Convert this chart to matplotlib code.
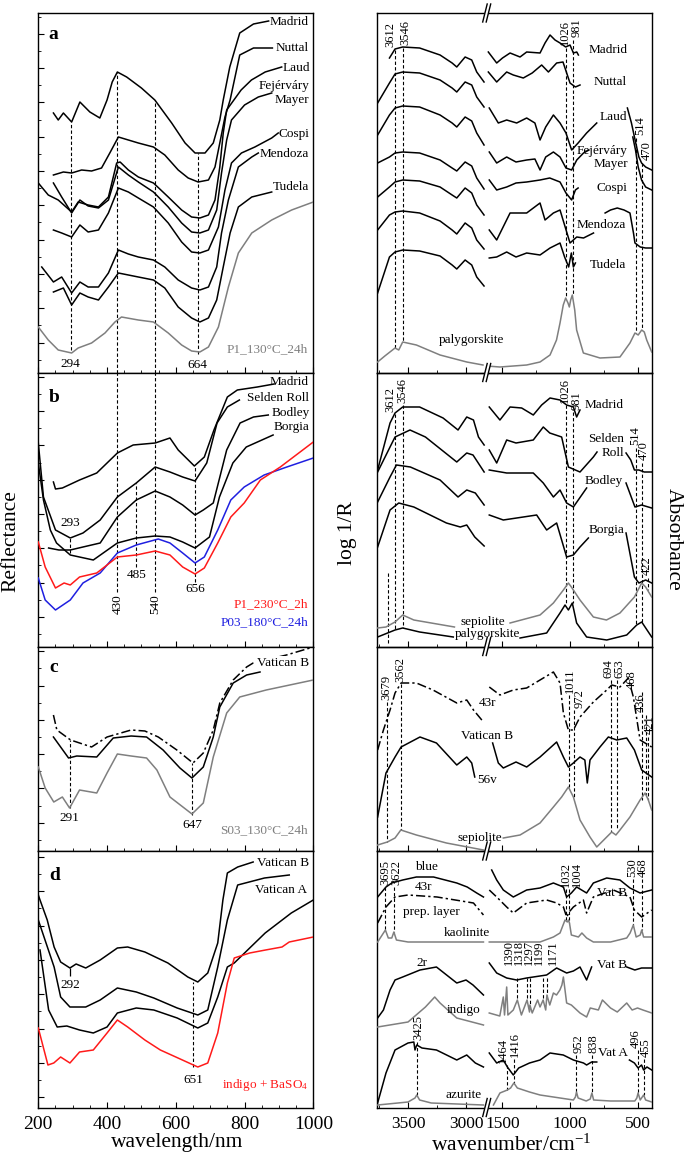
import numpy as np
import matplotlib
matplotlib.use("Agg")
import matplotlib.pyplot as plt
from matplotlib.ticker import MultipleLocator
from matplotlib.lines import Line2D
from matplotlib.patches import Polygon

plt.rcParams['font.family'] = ['Liberation Serif', 'DejaVu Serif']
plt.rcParams['mathtext.fontset'] = 'custom'
plt.rcParams['mathtext.rm'] = 'Liberation Serif'
plt.rcParams['mathtext.it'] = 'Liberation Serif:italic'
plt.rcParams['axes.linewidth'] = 1.0

# ---------------- LEFT a (wavelength nm, arbitrary reflectance units) ----------------
la_madrid_w = [244,258,273,297,321,350,379,400,415,430,457,500,539,588,627,656,685,709,728,738,757,786,826,870]
la_madrid_r = [1087,1080,1087,1078,1098,1088,1082,1100,1118,1128,1123,1112,1100,1077,1057,1047,1047,1057,1080,1100,1133,1167,1176,1179]
la_nuttal_w = [244,273,297,326,355,384,408,433,462,491,535,568,607,636,665,695,714,728,743,758,786,826,881]
la_nuttal_r = [1025,1028,1027,1030,1029,1032,1047,1063,1060,1057,1053,1045,1030,1022,1018,1020,1033,1057,1083,1100,1145,1152,1152]
la_laud_w = [200,229,258,297,316,345,375,404,428,438,462,491,535,578,617,646,670,695,714,728,738,748,790,820,860,908]
la_laud_r = [1017,1005,1000,988,998,995,993,1003,1037,1038,1030,1023,1017,1003,990,983,982,985,1000,1033,1067,1090,1110,1120,1128,1133]
la_fejer_w = [244,268,297,321,345,375,404,433,462,491,535,578,617,646,670,695,719,733,748,762,800,840,879]
la_fejer_r = [1017,1003,987,1000,994,992,1000,1033,1025,1018,1008,993,977,968,967,970,990,1027,1060,1080,1095,1103,1107]
la_cospi_w = [244,268,297,321,345,375,404,433,462,491,535,578,617,646,670,695,724,743,762,791,830,879,898]
la_cospi_r = [970,967,963,975,968,970,987,1012,1008,1002,993,977,958,948,947,950,973,1010,1037,1047,1053,1062,1067]
la_mendoza_w = [210,244,268,297,321,345,375,404,433,462,491,535,568,607,646,670,695,719,733,753,782,821,840]
la_mendoza_r = [933,918,923,907,918,913,913,927,950,946,943,940,933,920,912,910,913,933,967,1000,1033,1043,1047]
la_tudela_w = [244,273,297,321,345,375,404,433,462,491,535,568,607,646,670,695,719,738,758,782,821,879]
la_tudela_r = [908,912,895,907,903,900,913,927,925,923,920,912,893,882,878,882,900,933,967,993,1003,1008]
la_p1_w = [200,229,258,297,316,355,394,423,442,491,535,578,617,646,670,695,724,753,782,821,879,937,1000]
la_p1_r = [873,860,850,847,852,857,867,878,883,880,878,867,855,849,848,853,873,913,947,967,980,990,998]
la_peak_w = [294,430,540,664]
la_peak_top = [1078,1128,1100,1047]
la_peak_bot = [850,827,827,846]

# ---------------- LEFT b ----------------
lb_madrid_w = [244,250,270,320,370,430,476,540,583,607,654,683,711,750,779,837,886]
lb_madrid_r = [718,711,712,720,727,747,755,757,762,750,734,743,770,803,810,813,816]
lb_selden_w = [200,215,250,293,330,380,430,485,540,583,620,656,690,720,750,785]
lb_selden_r = [757,703,670,662,667,680,703,717,733,728,723,719,737,777,793,800]
lb_bodley_w = [230,260,293,330,380,430,485,540,583,620,656,680,709,748,787,826,869]
lb_bodley_r = [652,650,650,653,657,683,700,709,703,695,685,690,697,750,777,783,785]
lb_borgia_w = [200,215,235,253,293,360,430,485,540,583,620,656,698,727,766,805,883]
lb_borgia_r = [737,700,670,657,645,640,657,662,664,663,658,652,663,703,737,753,765]
lb_p1_w = [200,220,250,275,293,320,370,430,485,540,583,620,656,683,722,760,799,846,904,1000]
lb_p1_r = [658,633,612,617,615,623,627,643,645,649,645,633,626,632,657,683,697,720,733,758]
lb_p03_w = [200,220,250,293,330,380,430,485,549,583,620,656,683,722,760,799,857,923,1000]
lb_p03_r = [622,600,590,600,617,627,647,655,661,657,647,637,643,670,700,713,725,733,742]
lb_peak_w = [293,430,485,540,656]
lb_peak_top = [663,827,717,827,734]
lb_peak_bot = [647,608,633,608,618]

# ---------------- LEFT c ----------------
lc_vatb43_w = [244,254,294,355,400,470,510,549,603,650,680,709,728,767,806,825,922,1000]
lc_vatb43_r = [485,470,460,453,463,470,469,463,450,437,447,470,497,520,533,537,545,553]
lc_vatb_w = [244,288,312,370,418,470,515,563,612,647,680,709,728,767,806,845]
lc_vatb_r = [463,442,444,443,462,464,463,450,432,422,433,463,493,517,525,528]
lc_s03_w = [200,220,245,270,291,320,370,400,430,470,515,545,583,647,680,709,748,786,863,1000]
lc_s03_r = [433,412,398,403,392,410,407,427,446,444,442,430,403,386,397,443,487,503,510,520]
lc_peak_w = [291,647]
lc_peak_top = [460,437]
lc_peak_bot = [392,385]

# ---------------- LEFT d ----------------
ld_vatb_w = [200,205,226,246,265,292,310,338,380,430,460,510,577,635,664,693,722,737,750,780,825]
ld_vatb_r = [305,300,280,253,238,232,236,232,240,252,253,248,237,223,218,227,257,300,327,333,338]
ld_vata_w = [200,246,265,292,338,380,430,485,536,604,664,693,722,750,780,858,930]
ld_vata_r = [280,233,203,193,193,200,212,208,202,192,185,190,233,280,315,322,325]
ld_third_w = [205,230,255,283,320,360,400,430,485,536,604,664,693,722,750,770,860,936,1000]
ld_third_r = [250,190,173,174,170,167,173,187,192,190,182,172,177,203,233,237,267,287,300]
ld_indigo_w = [200,228,245,265,292,320,360,400,430,460,510,555,600,664,693,722,750,770,815,861,909,930,1000]
ld_indigo_r = [172,135,137,143,137,148,150,167,180,173,160,150,143,133,137,167,217,242,247,250,253,258,263]
ld_peak_w = [651]
ld_peak_top = [218]
ld_peak_bot = [133]

# ---------------- RIGHT a (wavenumber cm-1, log 1/R arbitrary units) ----------------
ra_lw = [3762,3660,3612,3546,3400,3224,3120,3080,3008,2951,2908,2845]
ra_madrid_lw = [3660,3612,3546,3400,3224,3120,3080,3008,2951,2908,2845]
ra_madrid_l = [1142,1151,1153,1152,1145,1137,1133,1143,1140,1128,1118]
ra_nuttal_l = [1097,1117,1126,1128,1127,1120,1112,1108,1118,1115,1103,1093]
ra_laud_l = [1065,1085,1092,1094,1093,1085,1077,1073,1083,1079,1067,1055]
ra_fejer_l = [1037,1043,1047,1048,1047,1040,1032,1029,1038,1034,1022,1011]
ra_cospi_l = [1003,1013,1018,1020,1019,1013,1005,1002,1012,1007,995,985]
ra_mendoza_l = [970,985,988,989,987,979,970,966,977,972,960,951]
ra_tudela_l = [907,943,948,950,949,944,935,931,940,935,923,914]
ra_madrid_rw = [1605,1543,1500,1444,1370,1321,1222,1185,1148,1111,1074,1032,1000,975,950,938]
ra_madrid_r = [1148,1137,1142,1147,1143,1148,1147,1157,1165,1160,1157,1153,1155,1147,1148,1145]
ra_nuttal_rw = [1605,1543,1469,1420,1346,1280,1210,1160,1099,1052,1000,960,926]
ra_nuttal_r = [1128,1118,1128,1125,1122,1127,1135,1128,1137,1138,1117,1113,1115]
ra_laud_rw = [1598,1531,1469,1395,1321,1260,1222,1180,1123,1074,1030,988,940,877,802]
ra_laud_r = [1092,1077,1080,1077,1082,1077,1060,1073,1085,1077,1067,1050,1057,1067,1077]
ra_laud_tw = [575,545,518,490,470,440,395]
ra_laud_t = [1092,1077,1060,1043,1037,1033,1030]
ra_fejer_rw = [1598,1543,1469,1400,1321,1260,1222,1180,1123,1074,1030,988,950,900,860]
ra_fejer_r = [1048,1037,1043,1038,1040,1041,1030,1043,1048,1043,1032,1030,1040,1047,1050]
ra_fejer_tw = [535,515,495,470,440,395]
ra_fejer_t = [1063,1050,1033,1020,1013,1010]
ra_cospi_rw = [1598,1543,1469,1400,1321,1222,1150,1074,1030,988,960,940]
ra_cospi_r = [1020,1010,1013,1017,1018,1020,1022,1018,1007,1000,1010,1012]
ra_mendoza_rw = [1598,1543,1444,1321,1222,1185,1123,1074,1000,950,900,826]
ra_mendoza_r = [970,960,987,987,997,980,987,990,957,963,962,967]
ra_mendoza_tw = [740,700,650,600,556,530,519,480,440,395]
ra_mendoza_t = [987,990,992,990,987,967,957,953,952,952]
ra_tudela_rw = [1598,1543,1469,1400,1321,1222,1148,1074,1040,1010,990,975,960]
ra_tudela_r = [942,943,948,943,947,945,952,957,943,933,947,933,937]
ra_paly_lw = [3762,3700,3612,3580,3546,3428,3224,2994,2854]
ra_paly_l = [838,844,852,850,858,855,845,838,835]
ra_paly_rw = [1617,1519,1321,1222,1148,1100,1074,1050,1032,1015,1005,995,983,965,951,901,778,630,556,519,495,469,450,432,395]
ra_paly_r = [834,833,835,838,845,860,877,895,902,897,893,900,905,890,870,847,842,843,857,867,865,870,868,860,848]

# ---------------- RIGHT b ----------------
rb_madrid_lw = [3762,3655,3612,3546,3400,3198,3069,2994,2936,2893,2844]
rb_madrid_l = [730,777,787,793,793,782,770,783,780,763,755]
rb_madrid_rw = [1598,1519,1444,1358,1272,1210,1148,1074,1025,975,951,926]
rb_madrid_r = [793,780,793,792,785,795,802,800,795,793,783,790]
rb_selden_lw = [3762,3655,3612,3483,3350,3080,2994,2940,2844]
rb_selden_l = [728,753,763,770,763,738,747,745,728]
rb_selden_rw = [1598,1543,1469,1400,1272,1198,1150,1062,1012,926,827,800]
rb_selden_r = [750,737,760,757,760,773,767,763,733,728,743,748]
rb_selden_tw = [585,550,523,490,450,395]
rb_selden_t = [747,740,730,730,728,728]
rb_bodley_lw = [3762,3655,3600,3480,3224,3069,2994,2920,2844]
rb_bodley_l = [698,723,735,733,720,703,710,707,695]
rb_bodley_rw = [1598,1469,1272,1198,1123,1074,1025,975,877]
rb_bodley_r = [730,727,727,717,703,710,697,693,712]
rb_bodley_tw = [585,519,470,395]
rb_bodley_t = [717,693,695,692]
rb_borgia_lw = [3762,3655,3580,3450,3169,3050,2994,2925,2844]
rb_borgia_l = [653,690,697,693,677,673,675,663,654]
rb_borgia_rw = [1598,1494,1247,1173,1099,1025,975,926,864]
rb_borgia_r = [685,680,685,670,677,643,645,653,662]
rb_borgia_tw = [585,523,490,440,395]
rb_borgia_t = [667,623,617,620,617]
rb_sep_lw = [3762,3690,3612,3546,3450,3250,3100]
rb_sep_l = [572,573,578,585,580,576,573]
rb_sep_rw = [1444,1222,1123,1049,1012,990,926,827,730,630,523,469,440,395]
rb_sep_r = [577,585,597,610,617,613,600,583,580,587,603,617,613,603]
rb_paly_lw = [3762,3612,3546,3400,3110]
rb_paly_l = [563,570,572,568,563]
rb_paly_rw = [1370,1173,1074,1037,1012,983,951,877,728,580,506,469,395]
rb_paly_r = [562,567,587,595,590,597,577,563,560,565,575,578,563]

# ---------------- RIGHT c ----------------
rc_43r_lw = [3762,3712,3655,3612,3560,3428,3285,3080,2994,2936,2850]
rc_43r_l = [450,470,490,507,517,517,510,497,500,490,478]
rc_43r_rw = [1598,1519,1420,1321,1222,1123,1074,1049,1012,975,926,827,728,691,630,568,531,481,395]
rc_43r_r = [513,505,510,512,520,528,517,487,470,470,483,498,510,515,513,522,503,460,453]
rc_vatb_lw = [3762,3690,3612,3560,3397,3255,3080,2994,2951,2925]
rc_vatb_l = [383,427,443,453,463,457,435,443,437,423]
rc_vatb_rw = [1573,1531,1494,1400,1321,1222,1099,1049,1012,975,926,890,872,852,778,716,654,580,523,469,395]
rc_vatb_r = [457,437,432,438,433,443,458,443,433,437,443,440,417,440,453,463,460,462,450,430,423]
rc_sep_lw = [3762,3678,3612,3562,3428,3169,2850]
rc_sep_l = [355,358,362,370,365,357,350]
rc_sep_rw = [1494,1370,1222,1123,1062,1012,975,926,852,802,728,691,660,630,556,481,444,420,395]
rc_sep_r = [362,365,377,393,403,413,403,380,363,353,363,368,365,370,383,400,407,400,390]

# ---------------- RIGHT d ----------------
rd_blue_lw = [3762,3690,3640,3546,3428,3280,3080,2990,2908,2850]
rd_blue_l = [303,313,317,320,323,323,317,313,307,303]
rd_blue_rw = [1580,1543,1494,1420,1321,1222,1123,1049,1025,990,951,877,827,728,630,556,481,395]
rd_blue_r = [330,320,310,303,310,312,317,313,303,307,313,307,317,322,320,312,307,310]
rd_43r_lw = [3762,3690,3612,3500,3250,2936,2850]
rd_43r_l = [277,293,303,305,303,297,285]
rd_43r_rw = [1598,1543,1469,1420,1321,1173,1099,1049,1025,1000,975,901,877,827,679,556,523,469,395]
rd_43r_r = [310,303,293,287,297,300,297,293,283,289,293,300,287,303,310,303,290,283,290]
rd_kao_lw = [3762,3695,3670,3640,3622,3600,3500,2850]
rd_kao_l = [258,270,262,262,268,260,258,258]
rd_kao_rw = [1598,1222,1123,1074,1037,1020,1012,1004,990,938,912,877,827,700,580,555,531,510,480,469,455,395]
rd_kao_r = [258,258,263,267,280,278,280,277,265,263,267,262,258,258,262,267,275,263,265,270,263,263]
rd_2r_lw = [3762,3712,3655,3612,3546,3397,3255,3080,3000,2940,2850]
rd_2r_l = [182,190,210,220,223,230,233,217,220,215,205]
rd_2r_rw = [1598,1543,1469,1395,1321,1173,1099,1025,975,926,877,840]
rd_2r_r = [237,227,222,220,222,225,232,227,229,233,220,233]
rd_2r_tw = [580,520,470,395]
rd_2r_t = [233,230,232,232]
rd_ind_lw = [3762,3500,3350,3270,3224,3080,2850]
rd_ind_l = [173,178,193,203,197,182,175]
rd_ind_rw = [1598,1520,1494,1485,1469,1460,1420,1390,1360,1318,1300,1297,1280,1240,1222,1199,1180,1171,1150,1123,1100,1075,1060,1049,1025,990,926,877,850,790,760,700,650,580,540,500,460,395]
rd_ind_r = [187,184,203,185,213,185,190,200,185,200,188,195,187,200,193,200,190,205,195,207,205,210,215,223,197,195,187,183,192,190,200,192,188,197,190,192,190,187]
rd_vata_lw = [3762,3690,3612,3500,3450,3440,3425,3380,3255,3080,2994,2920,2850]
rd_vata_l = [97,127,150,157,158,150,155,152,150,140,145,137,133]
rd_vata_rw = [1598,1543,1494,1464,1420,1380,1300,1222,1148,1050,975,900,877,840,802]
rd_vata_r = [147,137,140,133,125,132,137,140,147,145,140,137,135,138,138]
rd_vata_tw = [560,523,496,470,455,430,395]
rd_vata_t = [140,137,132,135,130,133,130]
rd_azu_lw = [3762,3500,3440,3425,3400,3300,2850]
rd_azu_l = [95,98,102,105,100,97,95]
rd_azu_rw = [1567,1519,1464,1440,1416,1390,1300,1222,975,960,952,940,880,850,838,825,700,520,505,496,480,455,440,395]
rd_azu_r = [95,107,110,112,117,112,108,105,100,103,108,102,99,101,107,100,99,99,102,107,100,105,100,98]

# ---------------- styling / layout ----------------
BLACK = 'k'; GREY = '#7f7f7f'; RED = '#ff1a1a'; BLUE = '#1f1fe0'
DASHDOT = (0, (6, 2, 1.5, 2))
DASH = (0, (3, 2))
LW = 1.1
LFS = 9.5   # curve labels
NFS = 9     # peak numbers

W, H = 685, 1159
fig = plt.figure(figsize=(W / 100, H / 100), dpi=100)

def rect(x0, x1, y0, y1):
    return [x0 / W, 1 - y1 / H, (x1 - x0) / W, (y1 - y0) / H]

def fp(x, y):
    return (x / W, 1 - y / H)

BND = [13, 372.5, 646.5, 851, 1107.5]
BASE = 1200
LX0, LX1 = 38.3, 313.3
RX0, RXB, RX1 = 376.7, 486.7, 651.7

left_axes = []
for i in range(4):
    ax = fig.add_axes(rect(LX0, LX1, BND[i], BND[i + 1]))
    ax.set_xlim(200, 1000)
    ax.set_ylim(BASE - BND[i + 1], BASE - BND[i])
    ax.xaxis.set_major_locator(MultipleLocator(200))
    ax.xaxis.set_minor_locator(MultipleLocator(50))
    ax.yaxis.set_major_locator(MultipleLocator(34.3))
    ax.yaxis.set_minor_locator(MultipleLocator(17.15))
    ax.tick_params(which='both', direction='in', top=False, right=False,
                   labelleft=False, labelbottom=(i == 3), labelsize=14, pad=6)
    ax.tick_params(which='major', length=4)
    ax.tick_params(which='minor', length=2.5)
    left_axes.append(ax)

right_axes = []
for i in range(4):
    axL = fig.add_axes(rect(RX0, RXB, BND[i], BND[i + 1]))
    axR = fig.add_axes(rect(RXB, RX1, BND[i], BND[i + 1]))
    for a, lim in ((axL, (3770, 2822)), (axR, (1617, 395))):
        a.set_xlim(*lim)
        a.set_ylim(BASE - BND[i + 1], BASE - BND[i])
        a.xaxis.set_major_locator(MultipleLocator(500))
        a.xaxis.set_minor_locator(MultipleLocator(250))
        a.set_yticks([])
        a.patch.set_visible(False)
        a.tick_params(which='both', direction='in', top=False, left=False, right=False,
                      labelleft=False, labelbottom=(i == 3), labelsize=12.5, pad=6)
        a.tick_params(which='major', length=4)
        a.tick_params(which='minor', length=2.5)
    axL.spines['right'].set_visible(False)
    axR.spines['left'].set_visible(False)
    right_axes.append((axL, axR))

def line(ax, x, y, color=BLACK, ls='-', lw=LW, z=3):
    ax.plot(x, y, color=color, ls=ls, lw=lw, zorder=z, solid_joinstyle='round')

def peaks(ax, xs, tops, bots):
    ax.vlines(xs, bots, tops, colors='k', linestyles=[DASH], lw=0.8, zorder=2)

def lab(ax, x, y, s, ha='left', color='k', fs=LFS, **kw):
    ax.text(x, y, s, ha=ha, va='center', fontsize=fs, color=color, clip_on=False, zorder=6, **kw)

# ----- left a -----
ax = left_axes[0]
for w, r in ((la_madrid_w, la_madrid_r), (la_nuttal_w, la_nuttal_r), (la_laud_w, la_laud_r),
             (la_fejer_w, la_fejer_r), (la_cospi_w, la_cospi_r), (la_mendoza_w, la_mendoza_r),
             (la_tudela_w, la_tudela_r)):
    line(ax, w, r)
line(ax, la_p1_w, la_p1_r, GREY)
peaks(ax, la_peak_w, la_peak_top, la_peak_bot)
lab(ax, 294, 836, '294', ha='center')
lab(ax, 664, 835, '664', ha='center')
for s, x, y in (('Madrid', 872, 1178), ('Nuttal', 891, 1152), ('Laud', 911, 1132),
                ('Fejérváry', 840, 1114), ('Mayer', 887, 1100), ('Cospi', 898, 1066),
                ('Mendoza', 843, 1046), ('Tudela', 881, 1013)):
    lab(ax, x, y, s)
ax.text(0.981, 0.064, 'P1_130°C_24h', transform=ax.transAxes, ha='right', va='center',
        fontsize=LFS, color=GREY)

# ----- left b -----
ax = left_axes[1]
for w, r in ((lb_madrid_w, lb_madrid_r), (lb_selden_w, lb_selden_r),
             (lb_bodley_w, lb_bodley_r), (lb_borgia_w, lb_borgia_r)):
    line(ax, w, r)
line(ax, lb_p03_w, lb_p03_r, BLUE)
line(ax, lb_p1_w, lb_p1_r, RED)
peaks(ax, lb_peak_w, lb_peak_top, lb_peak_bot)
lab(ax, 293, 677, '293', ha='center')
lab(ax, 485, 625, '485', ha='center')
lab(ax, 656, 611, '656', ha='center')
for x in (430, 540):
    ax.text(x, 606, str(x), rotation=90, ha='center', va='top', fontsize=NFS + 0.5, zorder=6)
for s, x, y in (('Madrid', 874, 818), ('Selden Roll', 806, 802), ('Bodley', 879, 787), ('Borgia', 884, 773)):
    lab(ax, x, y, s)
ax.text(0.981, 0.153, 'P1_230°C_2h', transform=ax.transAxes, ha='right', va='center', fontsize=LFS, color=RED)
ax.text(0.981, 0.088, 'P03_180°C_24h', transform=ax.transAxes, ha='right', va='center', fontsize=LFS, color=BLUE)

# ----- left c -----
ax = left_axes[2]
line(ax, lc_s03_w, lc_s03_r, GREY)
line(ax, lc_vatb_w, lc_vatb_r)
line(ax, lc_vatb43_w, lc_vatb43_r, ls=DASHDOT)
peaks(ax, lc_peak_w, lc_peak_top, lc_peak_bot)
lab(ax, 291, 382, '291', ha='center')
lab(ax, 649, 375, '647', ha='center')
ax.text(835, 537, 'Vatican B', ha='left', va='center', fontsize=LFS, zorder=6,
        bbox=dict(facecolor='white', edgecolor='none', pad=0.5))
ax.text(0.981, 0.103, 'S03_130°C_24h', transform=ax.transAxes, ha='right', va='center', fontsize=LFS, color=GREY)

# ----- left d -----
ax = left_axes[3]
line(ax, ld_vatb_w, ld_vatb_r)
line(ax, ld_vata_w, ld_vata_r)
line(ax, ld_third_w, ld_third_r)
line(ax, ld_indigo_w, ld_indigo_r, RED)
peaks(ax, ld_peak_w, ld_peak_top, ld_peak_bot)
ax.vlines([292], [224], [232], colors='k', lw=0.9)
lab(ax, 292, 215, '292', ha='center')
lab(ax, 651, 120, '651', ha='center')
lab(ax, 835, 337, 'Vatican B')
lab(ax, 830, 310, 'Vatican A')
ax.text(0.981, 0.086, 'indigo + BaSO$_4$', transform=ax.transAxes, ha='right', va='center', fontsize=LFS, color=RED)

# ----- right panels helper -----
def rpeaks(axL, axR, specs):
    for s, xt, yt, xl, ytop, ybot, side in specs:
        a = axL if side == 'L' else axR
        a.plot([xl, xl], [ytop, ybot], color='k', ls=DASH, lw=0.8, zorder=2)
        if s:
            a.text(xt, yt, s, rotation=90, ha='center', va='bottom', fontsize=NFS, zorder=6, clip_on=False)

def rlabels(axL, axR, specs):
    for s, x, y, side, ha in specs:
        a = axL if side == 'L' else axR
        lab(a, x, y, s, ha=ha)

# ----- right a -----
axL, axR = right_axes[0]
line(axL, ra_madrid_lw, ra_madrid_l)
for r in (ra_nuttal_l, ra_laud_l, ra_fejer_l, ra_cospi_l, ra_mendoza_l, ra_tudela_l):
    line(axL, ra_lw, r)
for w, r in ((ra_madrid_rw, ra_madrid_r), (ra_nuttal_rw, ra_nuttal_r), (ra_laud_rw, ra_laud_r),
             (ra_laud_tw, ra_laud_t), (ra_fejer_rw, ra_fejer_r), (ra_fejer_tw, ra_fejer_t),
             (ra_cospi_rw, ra_cospi_r), (ra_mendoza_rw, ra_mendoza_r), (ra_mendoza_tw, ra_mendoza_t),
             (ra_tudela_rw, ra_tudela_r)):
    line(axR, w, r)
line(axL, ra_paly_lw, ra_paly_l, GREY)
line(axR, ra_paly_rw, ra_paly_r, GREY)
rpeaks(axL, axR, [('3612', 3655, 1153, 3612, 1150, 852, 'L'),
                  ('3546', 3526, 1155, 3546, 1152, 858, 'L'),
                  ('1026', 1037, 1155, 1026, 1152, 902, 'R'),
                  ('981', 948, 1163, 981, 1160, 905, 'R'),
                  ('514', 481, 1065, 514, 1062, 867, 'R'),
                  ('470', 430, 1040, 470, 1037, 870, 'R')])
rlabels(axL, axR, [('Madrid', 864, 1150, 'R', 'left'), ('Nuttal', 822, 1118, 'R', 'left'),
                   ('Laud', 778, 1083, 'R', 'left'), ('Fejérváry', 950, 1049, 'R', 'left'),
                   ('Mayer', 827, 1036, 'R', 'left'), ('Cospi', 802, 1012, 'R', 'left'),
                   ('Mendoza', 950, 975, 'R', 'left'), ('Tudela', 852, 935, 'R', 'left'),
                   ('palygorskite', 2951, 860, 'L', 'center')])

# ----- right b -----
axL, axR = right_axes[1]
for w, r in ((rb_madrid_lw, rb_madrid_l), (rb_selden_lw, rb_selden_l),
             (rb_bodley_lw, rb_bodley_l), (rb_borgia_lw, rb_borgia_l), (rb_paly_lw, rb_paly_l)):
    line(axL, w, r)
for w, r in ((rb_madrid_rw, rb_madrid_r), (rb_selden_rw, rb_selden_r), (rb_selden_tw, rb_selden_t),
             (rb_bodley_rw, rb_bodley_r), (rb_bodley_tw, rb_bodley_t), (rb_borgia_rw, rb_borgia_r),
             (rb_borgia_tw, rb_borgia_t), (rb_paly_rw, rb_paly_r)):
    line(axR, w, r)
line(axL, rb_sep_lw, rb_sep_l, GREY)
line(axR, rb_sep_rw, rb_sep_r, GREY)
rpeaks(axL, axR, [('3612', 3655, 788, 3612, 786, 570, 'L'),
                  ('3546', 3552, 797, 3546, 795, 572, 'L'),
                  ('', 0, 0, 3672, 627, 556, 'L'),
                  ('1026', 1037, 797, 1026, 795, 595, 'R'),
                  ('981', 948, 790, 981, 788, 597, 'R'),
                  ('514', 519, 755, 514, 752, 575, 'R'),
                  ('470', 452, 740, 470, 737, 578, 'R'),
                  ('422', 430, 625, 422, 622, 610, 'R')])
rlabels(axL, axR, [('Madrid', 889, 795, 'R', 'left'), ('Selden', 864, 761, 'R', 'left'),
                   ('Roll', 765, 747, 'R', 'left'), ('Bodley', 889, 719, 'R', 'left'),
                   ('Borgia', 864, 670, 'R', 'left'), ('sepiolite', 2853, 578, 'L', 'center'),
                   ('palygorskite', 2819, 566, 'L', 'center')])

# ----- right c -----
axL, axR = right_axes[2]
line(axL, rc_43r_lw, rc_43r_l, ls=DASHDOT)
line(axR, rc_43r_rw, rc_43r_r, ls=DASHDOT)
line(axL, rc_vatb_lw, rc_vatb_l)
line(axR, rc_vatb_rw, rc_vatb_r)
line(axL, rc_sep_lw, rc_sep_l, GREY)
line(axR, rc_sep_rw, rc_sep_r, GREY)
rpeaks(axL, axR, [('3679', 3684, 500, 3679, 498, 358, 'L'),
                  ('3562', 3569, 518, 3562, 516, 370, 'L'),
                  ('1011', 1000, 507, 1011, 505, 413, 'R'),
                  ('972', 926, 492, 972, 490, 403, 'R'),
                  ('694', 716, 522, 694, 520, 368, 'R'),
                  ('653', 630, 522, 653, 520, 370, 'R'),
                  ('468', 546, 511, 468, 508, 400, 'R'),
                  ('436', 478, 488, 436, 485, 405, 'R'),
                  ('421', 412, 466, 421, 463, 400, 'R')])
rlabels(axL, axR, [('43r', 2819, 497, 'L', 'center'), ('Vatican B', 2819, 464, 'L', 'center'),
                   ('56v', 2819, 420, 'L', 'center'), ('sepiolite', 2879, 362, 'L', 'center')])

# ----- right d -----
axL, axR = right_axes[3]
line(axL, rd_blue_lw, rd_blue_l); line(axR, rd_blue_rw, rd_blue_r)
line(axL, rd_43r_lw, rd_43r_l, ls=DASHDOT); line(axR, rd_43r_rw, rd_43r_r, ls=DASHDOT)
line(axL, rd_kao_lw, rd_kao_l, GREY); line(axR, rd_kao_rw, rd_kao_r, GREY)
line(axL, rd_2r_lw, rd_2r_l); line(axR, rd_2r_rw, rd_2r_r); line(axR, rd_2r_tw, rd_2r_t)
line(axL, rd_ind_lw, rd_ind_l, GREY); line(axR, rd_ind_rw, rd_ind_r, GREY)
line(axL, rd_vata_lw, rd_vata_l); line(axR, rd_vata_rw, rd_vata_r); line(axR, rd_vata_tw, rd_vata_t)
line(axL, rd_azu_lw, rd_azu_l, GREY); line(axR, rd_azu_rw, rd_azu_r, GREY)
rpeaks(axL, axR, [('3695', 3698, 315, 3695, 313, 270, 'L'),
                  ('3622', 3597, 315, 3622, 313, 268, 'L'),
                  ('1032', 1030, 313, 1032, 311, 280, 'R'),
                  ('1004', 950, 313, 1004, 311, 277, 'R'),
                  ('530', 540, 323, 530, 321, 275, 'R'),
                  ('468', 462, 323, 468, 321, 270, 'R'),
                  ('1390', 1452, 235, 1390, 222, 200, 'R'),
                  ('1318', 1378, 235, 1318, 222, 200, 'R'),
                  ('1297', 1304, 235, 1297, 222, 195, 'R'),
                  ('1199', 1230, 235, 1199, 222, 200, 'R'),
                  ('1171', 1126, 235, 1171, 222, 205, 'R'),
                  ('3425', 3411, 160, 3425, 158, 105, 'L'),
                  ('1464', 1494, 137, 1464, 135, 110, 'R'),
                  ('1416', 1407, 143, 1416, 141, 117, 'R'),
                  ('952', 938, 147, 952, 145, 108, 'R'),
                  ('838', 827, 147, 838, 145, 107, 'R'),
                  ('496', 515, 152, 496, 150, 107, 'R'),
                  ('455', 437, 143, 455, 141, 105, 'R')])
rlabels(axL, axR, [('blue', 3339, 333, 'L', 'center'), ('43r', 3368, 313, 'L', 'center'),
                   ('prep. layer', 3296, 288, 'L', 'center'), ('kaolinite', 2994, 267, 'L', 'center'),
                   ('Vat B', 802, 307, 'R', 'left'), ('2r', 3382, 237, 'L', 'center'),
                   ('Vat B', 802, 235, 'R', 'left'), ('indigo', 3023, 190, 'L', 'center'),
                   ('Vat A', 790, 147, 'R', 'left'), ('azurite', 3023, 105, 'L', 'center')])

# ----- break marks -----
for yb in BND:
    a1, a2 = fp(RXB - 4, yb + 9), fp(RXB + 0.5, yb - 9)
    b1, b2 = fp(RXB - 0.5, yb + 9), fp(RXB + 4, yb - 9)
    fig.add_artist(Polygon([a1, a2, b2, b1], closed=True, transform=fig.transFigure,
                           facecolor='white', edgecolor='none', zorder=10))
    for p, q in ((a1, a2), (b1, b2)):
        fig.add_artist(Line2D([p[0], q[0]], [p[1], q[1]], transform=fig.transFigure,
                              color='k', lw=1.0, zorder=11))

# ----- panel letters and axis titles -----
for s, x, y in (('a', 48, 39), ('b', 49, 402), ('c', 49, 672), ('d', 49, 880)):
    fig.text(x / W, 1 - y / H, s, fontsize=14, fontweight='bold', va='baseline', ha='left')

fig.text(*fp(10.5, 541), 'Reflectance', rotation=90, ha='center', va='center', fontsize=15.5)
fig.text(*fp(348, 533), 'log 1/R', rotation=90, ha='center', va='center', fontsize=15.5)
fig.text(*fp(673, 539), 'Absorbance', rotation=270, ha='center', va='center', fontsize=15.5)
fig.text(*fp(177, 1143), 'wavelength/nm', ha='center', va='center', fontsize=15.5)
fig.text(*fp(511, 1145), 'wavenumber/cm$^{-1}$', ha='center', va='center', fontsize=15.5)

fig.savefig('out.png', dpi=100)
